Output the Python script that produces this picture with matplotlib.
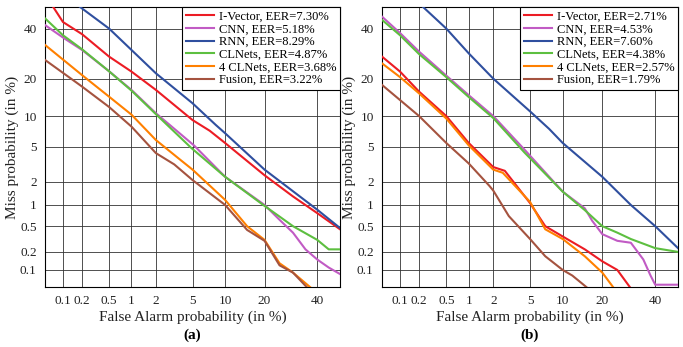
import math
import numpy as np
import matplotlib
matplotlib.use('Agg')
import matplotlib.pyplot as plt

plt.rcParams['font.family'] = 'Liberation Serif'

# DET curve data, (false alarm %, miss %)
methods = ['I-Vector', 'CNN', 'RNN', 'CLNets', '4 CLNets', 'Fusion']
eer_a = [7.30, 5.18, 8.29, 4.87, 3.68, 3.22]
eer_b = [2.71, 4.53, 7.60, 4.38, 2.57, 1.79]

# panel (a)
ivec_a_fa = [0.069, 0.1, 0.2, 0.5, 1, 2, 5, 7.3, 10, 20, 30, 40, 50]
ivec_a_miss = [50, 43, 37.5, 28, 22.4, 16.5, 9.2, 7.3, 5.5, 2.4, 1.3, 0.77, 0.45]
cnn_a_fa = [0.05, 0.1, 0.2, 0.5, 1, 2, 5.18, 10, 20, 25, 30, 35, 40, 45, 50]
cnn_a_miss = [41.6, 36, 30.7, 22.5, 16.5, 10.6, 5.18, 2.3, 1.0, 0.62, 0.4, 0.22, 0.15, 0.11, 0.085]
rnn_a_fa = [0.187, 0.5, 1, 2, 5, 8.29, 10, 20, 40, 50]
rnn_a_miss = [50, 40, 30.7, 21.8, 12.9, 8.29, 6.9, 2.8, 0.86, 0.47]
clnets_a_fa = [0.05, 0.1, 0.2, 0.5, 1, 2, 4.87, 10, 20, 25, 30, 40, 45, 50]
clnets_a_miss = [44.7, 37, 31, 22.5, 16.3, 10.4, 4.87, 2.3, 0.97, 0.69, 0.5, 0.31, 0.22, 0.22]
clnets4_a_fa = [0.05, 0.2, 0.5, 1, 2, 3.68, 5, 10, 15, 20, 25, 30, 36.9]
clnets4_a_miss = [32.8, 21.2, 14.6, 10.3, 5.9, 3.68, 2.8, 1.17, 0.5, 0.31, 0.13, 0.09, 0.05]
fusion_a_fa = [0.05, 0.2, 0.5, 1, 2, 3.22, 5, 10, 15, 20, 25, 30, 35.5]
fusion_a_miss = [26.7, 17.5, 12, 8.0, 4.3, 3.22, 2.1, 1.0, 0.44, 0.3, 0.12, 0.09, 0.05]

# panel (b)
ivec_b_fa = [0.05, 0.1, 0.2, 0.5, 1, 2, 2.71, 5, 7, 10, 15, 20, 25, 29.6]
ivec_b_miss = [28, 22.4, 16, 10, 5.5, 3.0, 2.71, 1.06, 0.5, 0.35, 0.22, 0.14, 0.1, 0.05]
cnn_b_fa = [0.05, 0.1, 0.2, 0.5, 1, 2, 4.53, 10, 15, 17, 20, 25, 30, 35, 38, 40, 50]
cnn_b_miss = [45.5, 38, 30, 21, 15, 10, 4.53, 1.5, 0.9, 0.6, 0.38, 0.3, 0.28, 0.15, 0.08, 0.055, 0.055]
rnn_b_fa = [0.23, 0.5, 1, 2, 5, 7.6, 10, 20, 30, 40, 50]
rnn_b_miss = [50, 40, 29.3, 20, 11, 7.6, 5.5, 2.3, 1.0, 0.5, 0.23]
clnets_b_fa = [0.05, 0.1, 0.2, 0.5, 1, 2, 4.38, 10, 15, 20, 25, 30, 40, 50]
clnets_b_miss = [44, 37, 29, 20.5, 14.5, 9.6, 4.38, 1.5, 0.85, 0.5, 0.4, 0.32, 0.23, 0.2]
clnets4_b_fa = [0.05, 0.1, 0.2, 0.5, 1, 2, 2.57, 5, 7, 10, 15, 20, 23.5]
clnets4_b_miss = [25.4, 20.5, 15.5, 9.5, 5.2, 2.8, 2.57, 1.1, 0.45, 0.32, 0.17, 0.09, 0.05]
fusion_b_fa = [0.05, 0.2, 0.5, 1, 1.79, 2, 3, 5, 7, 10, 12, 15.4]
fusion_b_miss = [18, 10, 5.5, 3.3, 1.79, 1.55, 0.7, 0.32, 0.17, 0.1, 0.08, 0.05]

ticks = [0.1, 0.2, 0.5, 1, 2, 5, 10, 20, 40]
tick_labels = ['0.1', '0.2', '0.5', '1', '2', '5', '10', '20', '40']
colors = ['#ec1c24', '#c15bc4', '#2f4f9f', '#5dbf40', '#ff8000', '#a5533f']


# normal deviate scale (NIST ppndf), works on percentages
def ppnd(p):
    p = np.atleast_1d(np.asarray(p, dtype=float)) / 100.0
    p = np.clip(p, 1e-10, 1 - 1e-10)
    q = p - 0.5
    out = np.empty_like(q)
    c = np.abs(q) <= 0.42
    r = q[c] ** 2
    out[c] = q[c] * (((-25.44106049637 * r + 41.39119773534) * r - 18.61500062529) * r + 2.50662823884) / \
        ((((3.13082909833 * r - 21.06224101826) * r + 23.08336743743) * r - 8.47351093090) * r + 1.0)
    t = ~c
    r = np.where(q[t] < 0, p[t], 1 - p[t])
    r = np.sqrt(-np.log(r))
    v = (((2.32121276858 * r + 4.85014127135) * r - 2.29796479134) * r - 2.78718931138) / \
        ((1.63706781897 * r + 3.54388924762) * r + 1.0)
    out[t] = np.where(q[t] < 0, -v, v)
    return out


_erf = np.vectorize(math.erf, otypes=[float])


def ncdf(z):
    z = np.asarray(z, dtype=float)
    return 100.0 * 0.5 * (1.0 + _erf(z / math.sqrt(2.0)))


fig = plt.figure(figsize=(6.83, 3.47), dpi=100)
ax_a = fig.add_axes([0.0659, 0.1729, 0.4319, 0.8069])
ax_b = fig.add_axes([0.5593, 0.1729, 0.4334, 0.8069])

panels = [
    (ax_a, '(a)', eer_a, [(ivec_a_fa, ivec_a_miss), (cnn_a_fa, cnn_a_miss), (rnn_a_fa, rnn_a_miss),
                          (clnets_a_fa, clnets_a_miss), (clnets4_a_fa, clnets4_a_miss), (fusion_a_fa, fusion_a_miss)]),
    (ax_b, '(b)', eer_b, [(ivec_b_fa, ivec_b_miss), (cnn_b_fa, cnn_b_miss), (rnn_b_fa, rnn_b_miss),
                          (clnets_b_fa, clnets_b_miss), (clnets4_b_fa, clnets4_b_miss), (fusion_b_fa, fusion_b_miss)]),
]

for ax, tag, eers, curves in panels:
    ax.set_xscale('function', functions=(ppnd, ncdf))
    ax.set_yscale('function', functions=(ppnd, ncdf))
    for (fa, miss), name, eer, col in zip(curves, methods, eers, colors):
        ax.plot(fa, miss, color=col, lw=1.5, label='%s, EER=%.2f%%' % (name, eer), zorder=3)
    ax.set_xlim(0.05, 50)
    ax.set_ylim(0.05, 50)
    ax.set_xticks(ticks)
    ax.set_xticklabels(tick_labels)
    ax.set_yticks(ticks)
    ax.set_yticklabels(tick_labels)
    ax.minorticks_off()
    ax.tick_params(direction='in', length=0, labelsize=9.5, colors='#222222', pad=6)
    ax.grid(True, color='#333333', lw=0.6)
    for s in ax.spines.values():
        s.set_linewidth(0.8)
    ax.set_xlabel('False Alarm probability (in %)', fontsize=11, labelpad=2.5, color='#222222')
    ax.set_ylabel('Miss probability (in %)', fontsize=11, labelpad=1, color='#222222')
    ax.text(0.5, -0.172, tag, transform=ax.transAxes, ha='center', va='center',
            fontsize=11, fontweight='bold')
    leg = ax.legend(loc='upper right', fontsize=9, frameon=True, fancybox=False,
                    borderaxespad=0, handlelength=2.2, handletextpad=0.4,
                    labelspacing=0.05, borderpad=0.3)
    leg.get_frame().set_edgecolor('black')
    leg.get_frame().set_linewidth(0.8)
    leg.get_frame().set_alpha(1)

plt.savefig('out.png', dpi=100)
